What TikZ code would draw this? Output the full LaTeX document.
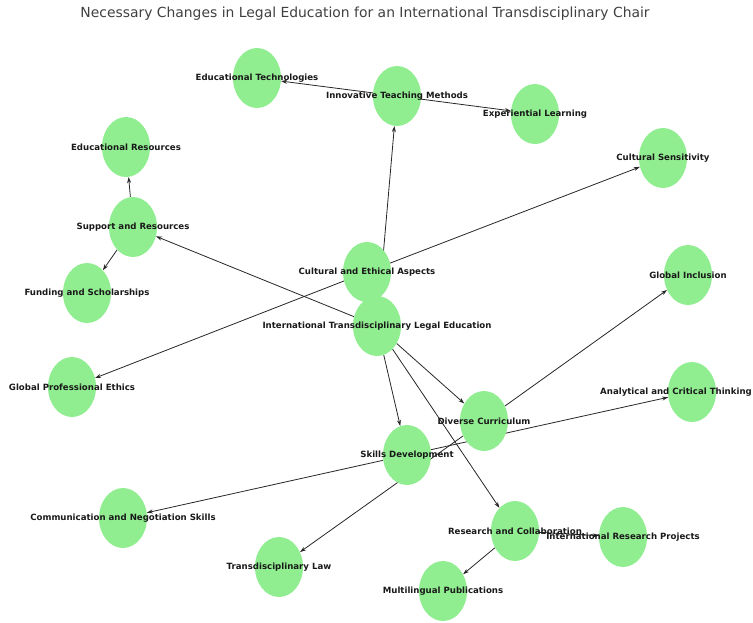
\documentclass[tikz,border=0pt]{standalone}
\usepackage{fontspec}
\setmainfont{DejaVu Sans}
\usetikzlibrary{shapes.geometric,arrows.meta,backgrounds}
\definecolor{nodegreen}{HTML}{90EE90}
\definecolor{titlegray}{HTML}{404040}
\begin{document}
\begin{tikzpicture}[x=1pt,y=-1pt,
	topic/.style = {ellipse, fill=nodegreen, minimum width=48pt, minimum height=60pt, inner sep=0pt,
		label={[font=\bfseries\fontsize{8.6}{10}\selectfont, text=black!90]center:#1}},
	link/.style = {-{Stealth[length=6pt,width=4pt]}, black!85, line width=0.8pt}]%graphe de la chaire

	\useasboundingbox (0,0) rectangle (753,622);
	\node[text=titlegray, font=\fontsize{13.9}{16}\selectfont] (title) at (365,14)
		{Necessary Changes in Legal Education for an International Transdisciplinary Chair};

	% les sommets
	\node[topic={Educational Technologies}] (edtech) at (257,78) {};
	\node[topic={Innovative Teaching Methods}] (itm) at (397,96) {};
	\node[topic={Experiential Learning}] (exp) at (535,114) {};
	\node[topic={Educational Resources}] (edres) at (126,147) {};
	\node[topic={Cultural Sensitivity}] (csens) at (663,158) {};
	\node[topic={Support and Resources}] (supp) at (133,227) {};
	\node[topic={Cultural and Ethical Aspects}] (cea) at (367,272) {};
	\node[topic={Global Inclusion}] (gincl) at (688,275) {};
	\node[topic={Funding and Scholarships}] (fund) at (87,293) {};
	\node[topic={International Transdisciplinary Legal Education}] (itle) at (377,326) {};
	\node[topic={Global Professional Ethics}] (gpe) at (72,387) {};
	\node[ellipse, fill=nodegreen, minimum width=48pt, minimum height=60pt, inner sep=0pt,
		label={[font=\bfseries\fontsize{8.6}{10}\selectfont, text=black!90, xshift=-16pt]center:Analytical and Critical Thinking}]
		(act) at (692,392) {};
	\node[topic={Diverse Curriculum}] (dc) at (484,421) {};
	\node[topic={Skills Development}] (skills) at (407,455) {};
	\node[topic={Communication and Negotiation Skills}] (comm) at (123,518) {};
	\node[topic={Research and Collaboration}] (rc) at (515,531) {};
	\node[topic={International Research Projects}] (irp) at (623,537) {};
	\node[topic={Transdisciplinary Law}] (tlaw) at (279,567) {};
	\node[topic={Multilingual Publications}] (mpub) at (443,591) {};

	% les arcs
	\begin{scope}[on background layer]
		\foreach \a/\b in {itle/supp, itle/itm, itle/dc, itle/skills, itle/rc,
			itm/edtech, itm/exp, supp/edres, supp/fund,
			cea/csens, cea/gpe, dc/gincl, dc/tlaw,
			skills/act, skills/comm, rc/irp, rc/mpub} {
			\draw[link] (\a) -- (\b);}
	\end{scope}
\end{tikzpicture}
\end{document}
